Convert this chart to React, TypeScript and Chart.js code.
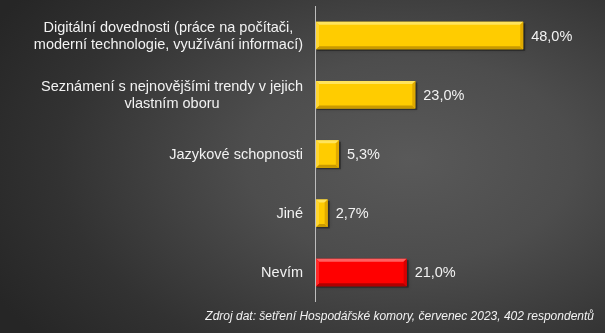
import React, { useEffect, useRef } from "react";
import { Chart, registerables } from "chart.js";
Chart.register(...registerables);

const categories: string[][] = [
  ["Digitální dovednosti (práce na počítači,", "moderní technologie, využívání informací)"],
  ["Seznámení s nejnovějšími trendy v jejich", "vlastním oboru"],
  ["Jazykové schopnosti"],
  ["Jiné"],
  ["Nevím"],
];
const values: number[] = [48.0, 23.0, 5.3, 2.7, 21.0];
const barKinds: string[] = ["gold", "gold", "gold", "gold", "red"];
const sourceText = "Zdroj dat: šetření Hospodářské komory, červenec 2023, 402 respondentů";
const axisMax = 60;

const palette: Record<string, { fill: string; light: string; dark: string; side: string; left: string }> = {
  gold: { fill: "#ffcc00", light: "#ffe45c", dark: "#c99a00", side: "#e0aa00", left: "#ffd633" },
  red: { fill: "#ff0000", light: "#ff6060", dark: "#b00000", side: "#d80000", left: "#ff2a2a" },
};

const FONT = "'Liberation Sans', Arial, sans-serif";
const fmt = (v: number) => v.toFixed(1).replace(".", ",") + "%";

const decorPlugin = {
  id: "decor",
  beforeDraw(chart: any) {
    const { ctx, width, height } = chart;
    ctx.save();
    ctx.fillStyle = "#262626";
    ctx.fillRect(0, 0, width, height);
    const rx = 470;
    const ry = 290;
    ctx.translate(410, 160);
    ctx.scale(1, ry / rx);
    const g = ctx.createRadialGradient(0, 0, 0, 0, 0, rx);
    g.addColorStop(0, "#595959");
    g.addColorStop(0.35, "#4d4d4d");
    g.addColorStop(0.75, "#323232");
    g.addColorStop(1, "#262626");
    ctx.fillStyle = g;
    ctx.fillRect(-rx * 2, -rx * 2, rx * 4, rx * 4);
    ctx.restore();
  },
  beforeDatasetsDraw(chart: any) {
    const { ctx } = chart;
    const meta = chart.getDatasetMeta(0);
    ctx.save();
    meta.data.forEach((bar: any) => {
      const x0 = Math.min(bar.base, bar.x);
      const x1 = Math.max(bar.base, bar.x);
      const y0 = bar.y - bar.height / 2;
      ctx.fillStyle = "rgba(0,0,0,0.35)";
      ctx.shadowColor = "rgba(0,0,0,0.5)";
      ctx.shadowBlur = 3;
      ctx.fillRect(x0 + 1, y0 + 1.5, x1 - x0 + 1, bar.height);
    });
    ctx.restore();
  },
  afterDatasetsDraw(chart: any) {
    const { ctx, chartArea } = chart;
    const meta = chart.getDatasetMeta(0);
    ctx.save();
    meta.data.forEach((bar: any, i: number) => {
      const p = palette[barKinds[i]];
      const x0 = Math.min(bar.base, bar.x);
      const x1 = Math.max(bar.base, bar.x);
      const y0 = bar.y - bar.height / 2;
      const y1 = bar.y + bar.height / 2;
      const b = Math.min(3, (x1 - x0) / 3);
      const poly = (pts: number[][], c: string) => {
        ctx.beginPath();
        ctx.moveTo(pts[0][0], pts[0][1]);
        for (let k = 1; k < pts.length; k++) ctx.lineTo(pts[k][0], pts[k][1]);
        ctx.closePath();
        ctx.fillStyle = c;
        ctx.fill();
      };
      poly([[x0, y0], [x1, y0], [x1 - b, y0 + b], [x0 + b, y0 + b]], p.light);
      poly([[x0, y1], [x1, y1], [x1 - b, y1 - b], [x0 + b, y1 - b]], p.dark);
      poly([[x1, y0], [x1, y1], [x1 - b, y1 - b], [x1 - b, y0 + b]], p.side);
      poly([[x0, y0], [x0, y1], [x0 + b, y1 - b], [x0 + b, y0 + b]], p.left);

      // value label
      ctx.fillStyle = "#f2f2f2";
      ctx.font = `14.5px ${FONT}`;
      ctx.textAlign = "left";
      ctx.textBaseline = "middle";
      ctx.fillText(fmt(values[i]), x1 + 8, bar.y + 1);

      // category label
      const lines = categories[i];
      ctx.font = `14.5px ${FONT}`;
      const maxW = Math.max(...lines.map((l) => ctx.measureText(l).width));
      const cx = 303 - maxW / 2;
      const lh = 17;
      const startY = bar.y - ((lines.length - 1) * lh) / 2 + 1;
      ctx.textAlign = "center";
      lines.forEach((l, k) => ctx.fillText(l, cx, startY + k * lh));
    });

    // axis line
    ctx.strokeStyle = "#bdbdbd";
    ctx.lineWidth = 1;
    ctx.beginPath();
    const ax = Math.round(chartArea.left) - 0.5;
    ctx.moveTo(ax, chartArea.top);
    ctx.lineTo(ax, chartArea.bottom);
    ctx.stroke();

    // source
    ctx.fillStyle = "#f2f2f2";
    ctx.font = `italic 12px ${FONT}`;
    ctx.textAlign = "right";
    ctx.textBaseline = "middle";
    ctx.fillText(sourceText, 594, 317);
    ctx.restore();
  },
};

export default function App() {
  const ref = useRef<HTMLCanvasElement>(null);
  useEffect(() => {
    document.body.style.margin = "0";
    const chart = new Chart(ref.current!, {
      type: "bar",
      data: {
        labels: categories.map((c) => c.join(" ")),
        datasets: [
          {
            data: values,
            backgroundColor: barKinds.map((k) => palette[k].fill),
            borderWidth: 0,
            categoryPercentage: 1,
            barPercentage: 0.465,
          },
        ],
      },
      options: {
        indexAxis: "y",
        responsive: false,
        animation: false,
        devicePixelRatio: 1,
        layout: { padding: { left: 316, right: 30, top: 6, bottom: 31 } },
        plugins: { legend: { display: false }, tooltip: { enabled: false } },
        scales: {
          x: { display: false, min: 0, max: axisMax },
          y: { display: false },
        },
      },
      plugins: [decorPlugin],
    });
    return () => chart.destroy();
  }, []);
  return (
    <div style={{ width: 605, height: 333 }}>
      <canvas ref={ref} width={605} height={333} style={{ display: "block" }} />
    </div>
  );
}
